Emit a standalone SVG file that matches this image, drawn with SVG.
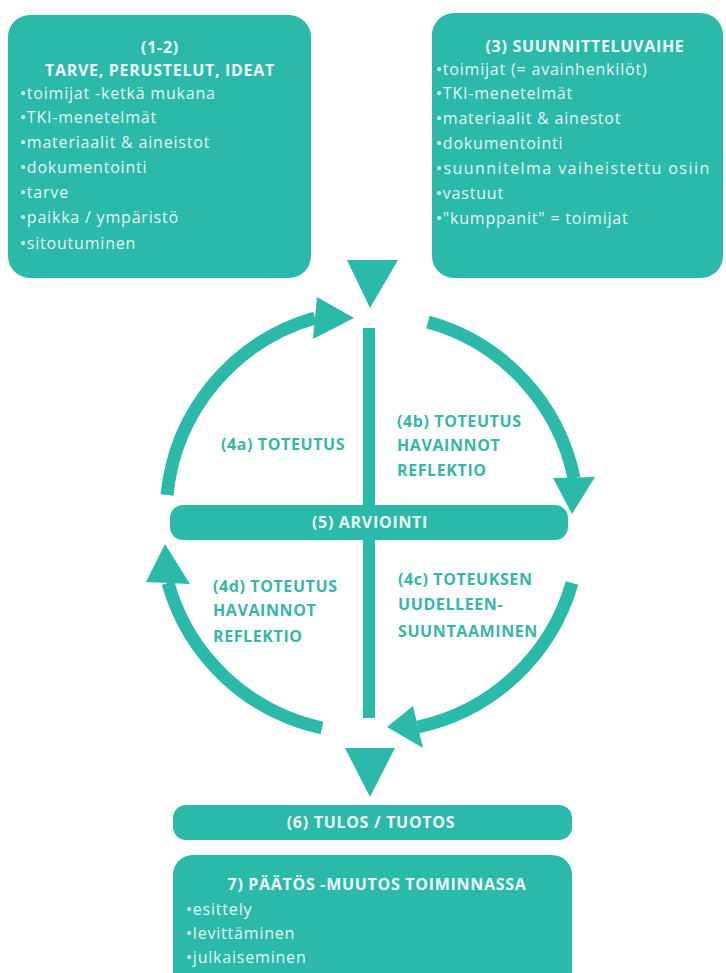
<svg xmlns="http://www.w3.org/2000/svg" width="726" height="973" viewBox="0 0 726 973">
<style>
.box{fill:#2bb9aa}
.wt{fill:#e6f6f3;font-family:"Open Sans","Noto Sans",sans-serif;font-size:16px;letter-spacing:0.8px}
.wh{fill:#eef9f7;font-family:"Open Sans","Noto Sans",sans-serif;font-size:16px;font-weight:bold;letter-spacing:0.7px;text-anchor:middle}
.lb{fill:#36b6a9;font-family:"Open Sans","Noto Sans",sans-serif;font-size:16px;font-weight:bold;letter-spacing:0.6px}
.arc{fill:none;stroke:#2bb9aa;stroke-width:13}
.ah{fill:#2bb9aa}
</style>
<rect width="726" height="973" fill="#ffffff"/>
<g id="box12">
<rect class="box" x="8" y="15" width="303" height="263" rx="22"/>
<text class="wh" x="160" y="53">(1-2)</text>
<text class="wh" x="160" y="76">TARVE, PERUSTELUT, IDEAT</text>
<text class="wt" x="20" y="99">•toimijat -ketkä mukana</text>
<text class="wt" x="20" y="123">•TKI-menetelmät</text>
<text class="wt" x="20" y="148">•materiaalit &amp; aineistot</text>
<text class="wt" x="20" y="173">•dokumentointi</text>
<text class="wt" x="20" y="198">•tarve</text>
<text class="wt" x="20" y="223">•paikka / ympäristö</text>
<text class="wt" x="20" y="249">•sitoutuminen</text>
</g>
<g id="box3">
<rect class="box" x="432" y="13" width="291" height="265" rx="22"/>
<text class="wh" x="585" y="52">(3) SUUNNITTELUVAIHE</text>
<text class="wt" x="436" y="75">•toimijat (= avainhenkilöt)</text>
<text class="wt" x="436" y="99">•TKI-menetelmät</text>
<text class="wt" x="436" y="124">•materiaalit &amp; ainestot</text>
<text class="wt" x="436" y="149">•dokumentointi</text>
<text class="wt" x="436" y="174" textLength="274" lengthAdjust="spacing">•suunnitelma vaiheistettu osiin</text>
<text class="wt" x="436" y="199">•vastuut</text>
<text class="wt" x="436" y="224">•"kumppanit" = toimijat</text>
</g>
<g id="connectors">
<polygon class="ah" points="347,260 398,260 370,308"/>
<rect class="box" x="363" y="328" width="12" height="390"/>
<path class="arc" d="M167,495 A205,205 0 0 1 315,318"/>
<polygon class="ah" points="317,297 313,339 354,318"/>
<path class="arc" d="M428,322 A205,205 0 0 1 574,478"/>
<polygon class="ah" points="553,478 595,477 572,514"/>
<path class="arc" d="M572,583 A205,205 0 0 1 418,727"/>
<polygon class="ah" points="413,706 423,748 387,727"/>
<path class="arc" d="M322,728 A205,205 0 0 1 168,583"/>
<polygon class="ah" points="146,582 190,584 165,544"/>
<polygon class="ah" points="345,748 395,748 370,797"/>
</g>
<g id="labels">
<text class="lb" x="221" y="450">(4a) TOTEUTUS</text>
<text class="lb" x="397" y="427">(4b) TOTEUTUS</text>
<text class="lb" x="397" y="451">HAVAINNOT</text>
<text class="lb" x="397" y="476">REFLEKTIO</text>
<text class="lb" x="213" y="592">(4d) TOTEUTUS</text>
<text class="lb" x="213" y="616">HAVAINNOT</text>
<text class="lb" x="213" y="642">REFLEKTIO</text>
<text class="lb" x="398" y="585">(4c) TOTEUKSEN</text>
<text class="lb" x="398" y="610">UUDELLEEN-</text>
<text class="lb" x="398" y="637">SUUNTAAMINEN</text>
</g>
<g id="arviointi">
<rect class="box" x="170" y="505" width="398" height="35" rx="13"/>
<rect class="box" x="363" y="500" width="12" height="45"/>
<text class="wh" x="370" y="528">(5) ARVIOINTI</text>
</g>
<g id="tulos">
<rect class="box" x="173" y="805" width="399" height="35" rx="13"/>
<text class="wh" x="371" y="828">(6) TULOS / TUOTOS</text>
</g>
<g id="paatos">
<rect class="box" x="173" y="855" width="399" height="140" rx="20"/>
<text class="wh" x="377" y="890">7) PÄÄTÖS -MUUTOS TOIMINNASSA</text>
<text class="wt" x="186" y="915">•esittely</text>
<text class="wt" x="186" y="939">•levittäminen</text>
<text class="wt" x="186" y="963">•julkaiseminen</text>
</g>
</svg>
